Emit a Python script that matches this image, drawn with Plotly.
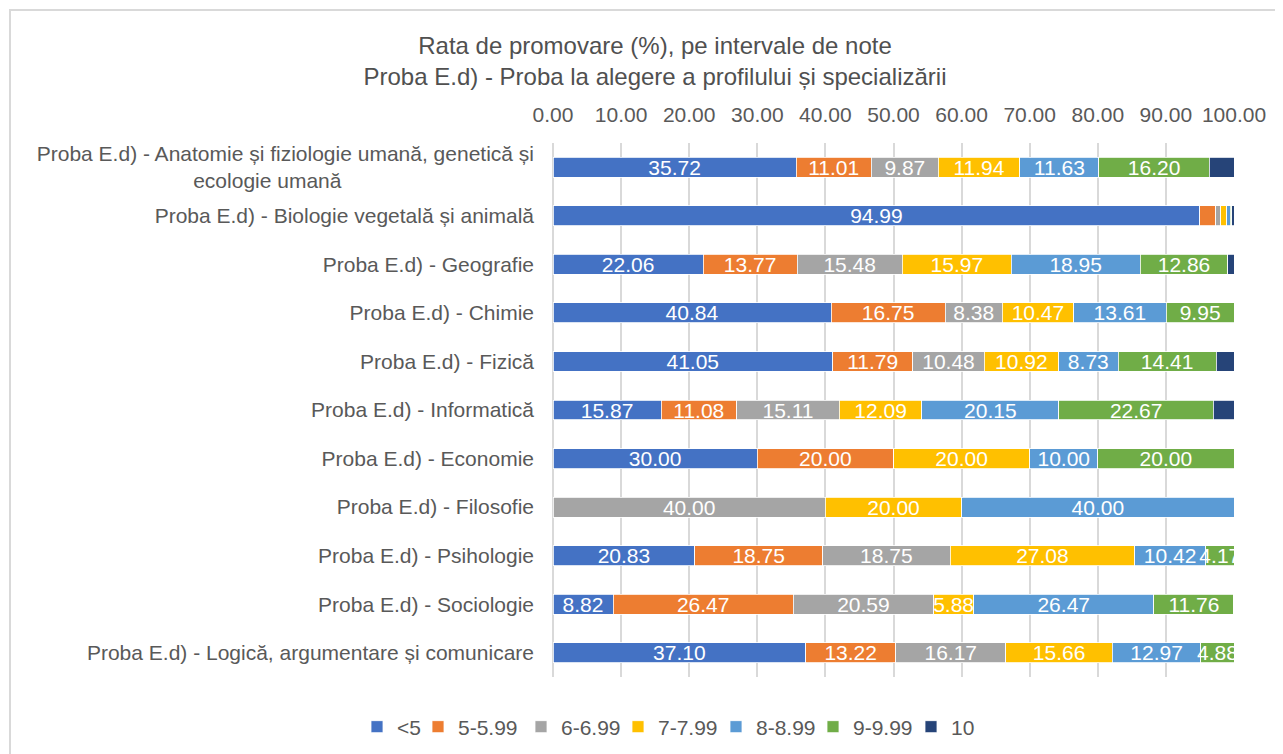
import plotly.graph_objects as go

categories = [
    "Proba E.d) - Anatomie și fiziologie umană, genetică și<br>ecologie umană" + "\u00a0" * 33,
    "Proba E.d) - Biologie vegetală și animală",
    "Proba E.d) - Geografie",
    "Proba E.d) - Chimie",
    "Proba E.d) - Fizică",
    "Proba E.d) - Informatică",
    "Proba E.d) - Economie",
    "Proba E.d) - Filosofie",
    "Proba E.d) - Psihologie",
    "Proba E.d) - Sociologie",
    "Proba E.d) - Logică, argumentare și comunicare",
]

series_names = ["<5", "5-5.99", "6-6.99", "7-7.99", "8-8.99", "9-9.99", "10"]

v_lt5 = [35.72, 94.99, 22.06, 40.84, 41.05, 15.87, 30.00, 0.00, 20.83, 8.82, 37.10]
v_5 = [11.01, 2.35, 13.77, 16.75, 11.79, 11.08, 20.00, 0.00, 18.75, 26.47, 13.22]
v_6 = [9.87, 0.70, 15.48, 8.38, 10.48, 15.11, 0.00, 40.00, 18.75, 20.59, 16.17]
v_7 = [11.94, 0.90, 15.97, 10.47, 10.92, 12.09, 20.00, 20.00, 27.08, 5.88, 15.66]
v_8 = [11.63, 0.50, 18.95, 13.61, 8.73, 20.15, 10.00, 40.00, 10.42, 26.47, 12.97]
v_9 = [16.20, 0.20, 12.86, 9.95, 14.41, 22.67, 20.00, 0.00, 4.17, 11.76, 4.88]
v_10 = [3.63, 0.36, 0.91, 0.00, 2.62, 3.03, 0.00, 0.00, 0.00, 0.00, 0.00]

series_values = [v_lt5, v_5, v_6, v_7, v_8, v_9, v_10]
colors = ["#4472C4", "#ED7D31", "#A5A5A5", "#FFC000", "#5B9BD5", "#70AD47", "#264478"]
legend_widths = [16, 58, 52, 53, 52, 53, 30]

x_ticks = [0, 10, 20, 30, 40, 50, 60, 70, 80, 90, 100]
x_tick_labels = ["0.00", "10.00", "20.00", "30.00", "40.00", "50.00", "60.00", "70.00", "80.00", "90.00", "100.00"]

FONT = "Liberation Sans, Arial, sans-serif"
GREY = "#595959"

W, H = 1283, 754
# plot area in figure pixels (page has an 8px body margin)
PL, PR, PT, PB = 545, 1226, 135, 669

fig = go.Figure()
for name, vals, col, lw in zip(series_names, series_values, colors, legend_widths):
    fig.add_trace(go.Bar(
        y=categories,
        x=vals,
        name=name,
        orientation="h",
        marker=dict(color=col, line=dict(color="white", width=0.8)),
        text=[f"{v:.2f}" if v >= 4 else "" for v in vals],
        textposition="inside",
        insidetextanchor="middle",
        textfont=dict(color="white", size=21, family=FONT),
        cliponaxis=True,
        legendwidth=lw,
    ))

pw = PR - PL
ph = PB - PT


def px_x(p):
    return (p - PL) / pw


def px_y(p):
    return (PB - p) / ph


fig.add_shape(
    type="rect", xref="paper", yref="paper",
    x0=px_x(2), x1=px_x(1320), y0=px_y(800), y1=px_y(2),
    line=dict(color="#d9d9d9", width=2), fillcolor="rgba(0,0,0,0)", layer="below",
)

fig.update_layout(
    width=W, height=H,
    margin=dict(l=PL, r=W - PR, t=PT, b=H - PB, pad=0),
    barmode="stack",
    bargap=0.59,
    plot_bgcolor="white",
    paper_bgcolor="white",
    font=dict(family=FONT, size=21, color=GREY),
    title=dict(
        text="Rata de promovare (%), pe intervale de note<br>Proba E.d) - Proba la alegere a profilului și specializării",
        font=dict(family=FONT, size=24, color="#505050"),
        x=647 / W, xanchor="center", xref="container",
        y=1 - 46 / H, yanchor="top", yref="container",
    ),
    uniformtext=dict(minsize=21, mode="show"),
    legend=dict(
        orientation="h",
        x=px_x(349), xanchor="left",
        y=px_y(719), yanchor="middle",
        font=dict(family=FONT, size=21, color=GREY),
        itemwidth=30,
        traceorder="normal",
        bgcolor="rgba(0,0,0,0)",
    ),
    xaxis=dict(
        side="top",
        range=[0, 100],
        tickmode="array",
        tickvals=x_ticks,
        ticktext=x_tick_labels,
        showgrid=True,
        gridcolor="#d9d9d9",
        gridwidth=2,
        zeroline=True,
        zerolinecolor="#d9d9d9",
        zerolinewidth=2,
        showline=False,
        ticks="",
        ticklabelstandoff=16,
        tickfont=dict(family=FONT, size=21, color=GREY),
        fixedrange=True,
    ),
    yaxis=dict(
        autorange="reversed",
        showgrid=False,
        showline=False,
        ticks="",
        ticklabelstandoff=18,
        tickfont=dict(family=FONT, size=21, color=GREY),
        fixedrange=True,
    ),
    showlegend=True,
)

fig.write_html("out.html")
